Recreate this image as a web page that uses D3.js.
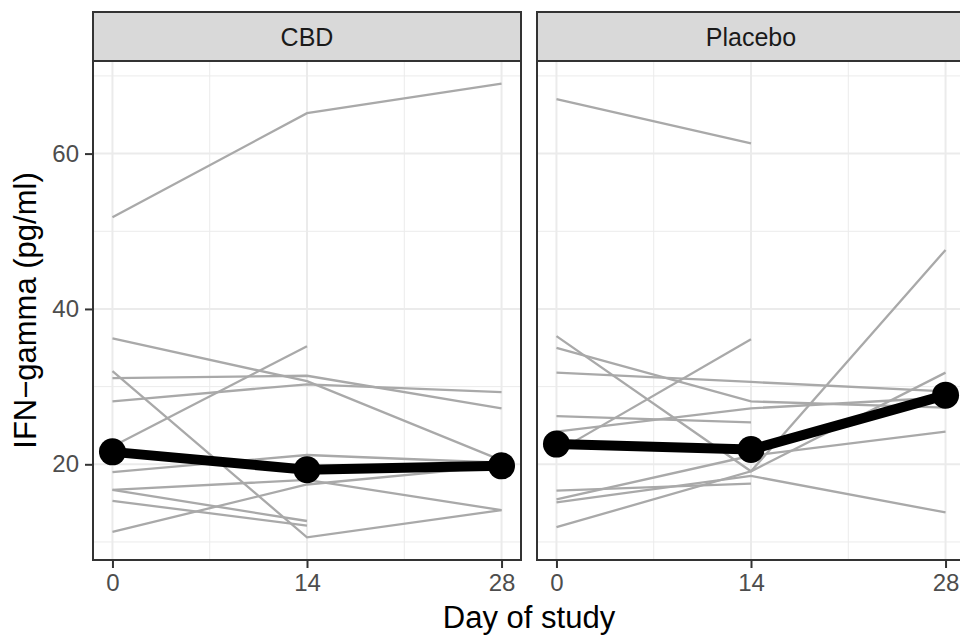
<!DOCTYPE html>
<html>
<head>
<meta charset="utf-8">
<script src="https://cdn.jsdelivr.net/npm/d3@7"></script>
<style>
  html, body { margin: 0; padding: 0; background: #fff; overflow: hidden; }
  svg { display: block; }
  text { font-family: "Liberation Sans", Arial, Helvetica, sans-serif; }
</style>
</head>
<body>
<script>
// ---------------- data ----------------
const days = [0, 14, 28];
const panels = ["CBD", "Placebo"];
const xTicks = [0, 14, 28];
const xMinor = [7, 21];
const yTicks = [20, 40, 60];
const yMinor = [10, 30, 50, 70];

const cbdSubjects = [
  [51.8, 65.2, 69.0],
  [36.2, 30.7, 20.5],
  [32.0, 10.6, 14.1],
  [31.1, 31.4, 27.2],
  [28.1, 30.3, 29.3],
  [22.3, 35.2, null],
  [19.0, 21.2, 20.2],
  [16.7, 18.0, 14.1],
  [16.7, 12.7, null],
  [15.3, 12.1, null],
  [11.3, 17.4, 19.8]
];
const cbdMean = [21.6, 19.3, 19.8];

const placeboSubjects = [
  [67.0, 61.3, null],
  [36.5, 19.1, 31.8],
  [35.0, 28.1, 27.3],
  [31.8, 30.6, 29.4],
  [26.2, 25.4, null],
  [24.2, 27.2, 28.6],
  [21.6, 36.1, null],
  [16.6, 17.5, null],
  [15.5, 21.1, 24.2],
  [15.1, 18.5, 13.8],
  [11.9, 19.1, 47.6]
];
const placeboMean = [22.6, 21.9, 28.9];

const subjectsByPanel = [cbdSubjects, placeboSubjects];
const meanByPanel = [cbdMean, placeboMean];

// ---------------- layout ----------------
const W = 960, H = 636;
const panelTop = 61, panelBottom = 560;
const stripTop = 12;
const panelLefts = [93, 537];
const panelW = 428;

const svg = d3.select("body").append("svg")
  .attr("width", W).attr("height", H);

// y scale with ggplot-like 5% expansion
const allVals = [];
subjectsByPanel.forEach(s => s.forEach(r => r.forEach(v => { if (v != null) allVals.push(v); })));
meanByPanel.forEach(m => m.forEach(v => allVals.push(v)));
const yMin = d3.min(allVals), yMax = d3.max(allVals);
const yPad = (yMax - yMin) * 0.05;
const y = d3.scaleLinear().domain([yMin - yPad, yMax + yPad]).range([panelBottom, panelTop]);

const xPad = (d3.max(days) - d3.min(days)) * 0.05;

panels.forEach((name, pi) => {
  const left = panelLefts[pi];
  const x = d3.scaleLinear().domain([d3.min(days) - xPad, d3.max(days) + xPad]).range([left, left + panelW]);
  const g = svg.append("g");

  g.append("rect").attr("x", left).attr("y", panelTop).attr("width", panelW).attr("height", panelBottom - panelTop)
    .attr("fill", "#fff");

  // minor grid
  g.selectAll(".ymin").data(yMinor).enter().append("line")
    .attr("x1", left).attr("x2", left + panelW)
    .attr("y1", d => y(d)).attr("y2", d => y(d))
    .attr("stroke", "#EBEBEB").attr("stroke-width", 1);
  g.selectAll(".xmin").data(xMinor).enter().append("line")
    .attr("y1", panelTop).attr("y2", panelBottom)
    .attr("x1", d => x(d)).attr("x2", d => x(d))
    .attr("stroke", "#EBEBEB").attr("stroke-width", 1);
  // major grid
  g.selectAll(".ymaj").data(yTicks).enter().append("line")
    .attr("x1", left).attr("x2", left + panelW)
    .attr("y1", d => y(d)).attr("y2", d => y(d))
    .attr("stroke", "#EBEBEB").attr("stroke-width", 2);
  g.selectAll(".xmaj").data(xTicks).enter().append("line")
    .attr("y1", panelTop).attr("y2", panelBottom)
    .attr("x1", d => x(d)).attr("x2", d => x(d))
    .attr("stroke", "#EBEBEB").attr("stroke-width", 2);

  // subject lines
  const line = d3.line()
    .defined(d => d[1] != null)
    .x(d => x(d[0])).y(d => y(d[1]));
  subjectsByPanel[pi].forEach(row => {
    g.append("path")
      .attr("d", line(days.map((d, i) => [d, row[i]])))
      .attr("fill", "none").attr("stroke", "#A9A9A9").attr("stroke-width", 2.3);
  });

  // mean line + points
  const mean = meanByPanel[pi];
  g.append("path")
    .attr("d", line(days.map((d, i) => [d, mean[i]])))
    .attr("fill", "none").attr("stroke", "#000").attr("stroke-width", 10)
    .attr("stroke-linejoin", "round");
  g.selectAll(".pt").data(days.map((d, i) => [d, mean[i]])).enter().append("circle")
    .attr("cx", d => x(d[0])).attr("cy", d => y(d[1])).attr("r", 13.5).attr("fill", "#000");

  // panel border
  g.append("rect").attr("x", left).attr("y", panelTop).attr("width", panelW).attr("height", panelBottom - panelTop)
    .attr("fill", "none").attr("stroke", "#333333").attr("stroke-width", 2);

  // strip
  g.append("rect").attr("x", left).attr("y", stripTop).attr("width", panelW).attr("height", panelTop - stripTop)
    .attr("fill", "#D9D9D9").attr("stroke", "#333333").attr("stroke-width", 2);
  g.append("text").attr("x", left + panelW / 2).attr("y", (stripTop + panelTop) / 2 + 9)
    .attr("text-anchor", "middle").attr("font-size", 25).attr("fill", "#1A1A1A").text(name);

  // x axis
  const xAxis = d3.axisBottom(x).tickValues(xTicks).tickSize(8).tickPadding(6).tickFormat(d3.format("d"));
  const ax = svg.append("g").attr("transform", `translate(0,${panelBottom})`).call(xAxis);
  ax.select(".domain").remove();
  ax.selectAll(".tick line").attr("stroke", "#333333").attr("stroke-width", 2);
  ax.selectAll(".tick text").attr("font-size", 24).attr("fill", "#4D4D4D")
    .attr("font-family", "'Liberation Sans', Arial, sans-serif");

  // y axis only on first panel
  if (pi === 0) {
    const yAxis = d3.axisLeft(y).tickValues(yTicks).tickSize(8).tickPadding(6);
    const ay = svg.append("g").attr("transform", `translate(${left},0)`).call(yAxis);
    ay.select(".domain").remove();
    ay.selectAll(".tick line").attr("stroke", "#333333").attr("stroke-width", 2);
    ay.selectAll(".tick text").attr("font-size", 24).attr("fill", "#4D4D4D")
      .attr("font-family", "'Liberation Sans', Arial, sans-serif");
  }
});

// axis titles
svg.append("text")
  .attr("x", (panelLefts[0] + panelLefts[1] + panelW) / 2)
  .attr("y", 628)
  .attr("text-anchor", "middle").attr("font-size", 31).attr("fill", "#000")
  .text("Day of study");

svg.append("text")
  .attr("transform", `translate(36,${(panelTop + panelBottom) / 2}) rotate(-90)`)
  .attr("text-anchor", "middle").attr("font-size", 31).attr("fill", "#000")
  .text("IFN\u2212gamma (pg/ml)");
</script>
</body>
</html>
